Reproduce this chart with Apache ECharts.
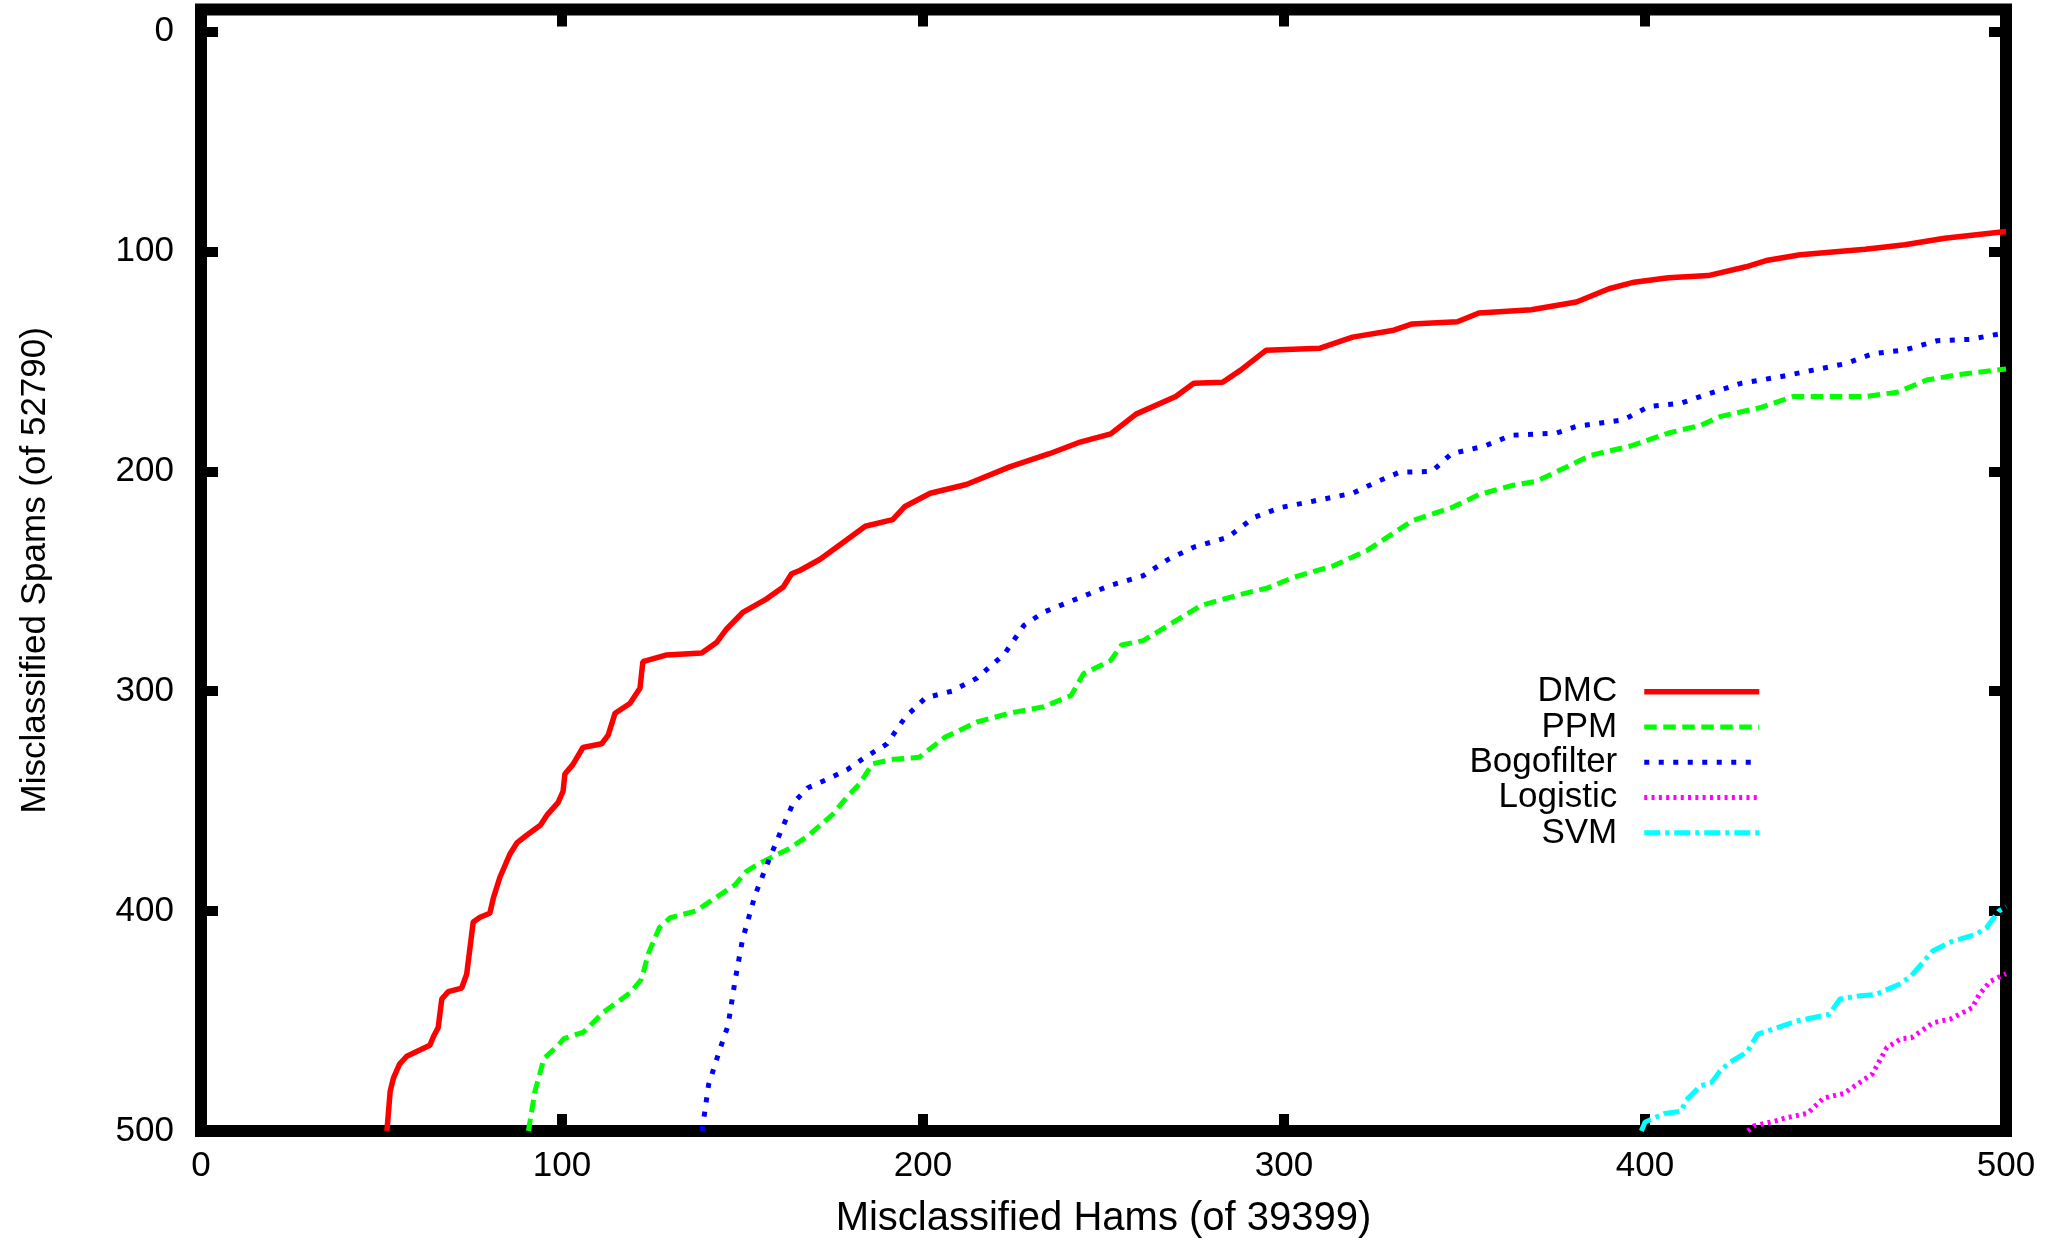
<!DOCTYPE html>
<html>
<head>
<meta charset="utf-8">
<script src="https://cdn.jsdelivr.net/npm/echarts@6/dist/echarts.min.js"></script>
<style>
html,body{margin:0;padding:0;background:#fff;}
#chart{width:2061px;height:1244px;}
</style>
</head>
<body>
<div id="chart"></div>
<script>
const seriesNames = ['DMC', 'PPM', 'Bogofilter', 'Logistic', 'SVM'];
const xTicks = [0, 100, 200, 300, 400, 500];
const yTicks = [0, 100, 200, 300, 400, 500];

const dmc = [[51.5,500],[52,490],[52.4,482],[53.3,476],[55,469.6],[57,466],[63.4,461],[64.4,457],[65.7,453],[66.7,440],[68.5,436.6],[72.2,435],[73.6,428.7],[75.4,405],[77.3,402.8],[80,401],[81,394],[82.8,384.6],[85.6,374],[87.5,369],[90.2,365.5],[94,361],[96,356],[98.9,350.7],[100.3,345.5],[100.8,337.7],[103,333.4],[105.8,325.6],[111,323.9],[112.8,320],[114.7,310],[118.8,305.6],[121.6,298.7],[122.4,286.6],[129,283.5],[138.7,282.6],[142.8,277.9],[145.6,271.7],[150.2,264],[156.7,258],[161.3,252.6],[163.6,246.6],[166,245],[171.5,240],[179,231],[184,225],[191.6,222],[195,216],[202,210],[212,206],[224,198],[235,192],[243,187],[252,183],[259,174],[270,166],[275,160],[283,159.5],[288,154],[295,145],[310,144],[319,139],[330,136],[335.5,133],[348,132],[354,128],[368.5,126.5],[381,123],[390,117],[397,114],[406.5,112],[417.5,111],[428,107],[434,104],[443,101.5],[461,99],[472,97],[483,94],[500,91]];

const ppm = [[90.7,500],[92.5,482],[95,467],[99,461],[100.5,458],[106,455],[111.5,446],[119,437],[122,431],[124,419],[127,407.5],[130,403],[137,400],[142.5,394],[148,388],[151,382],[155,378],[162.5,372],[168,366],[175,356],[179,348],[182.5,342],[186,333],[191.6,331],[199,330],[206,321],[215,314],[224,310],[233.5,307],[241,302],[244.5,292],[252,286],[255,279],[261,277],[268,270],[277,261],[288,256],[295.5,253],[303,248],[313.7,243],[323,236],[330,228.5],[335.5,222.5],[346.5,216.5],[354,210.6],[363,206.5],[370,204.5],[377.5,198.6],[385,192.7],[396,188.5],[406.5,182.6],[415.5,179],[421,175],[432,171],[441,166],[461,166],[470,164],[478,158.5],[487,156],[500,153.5]];

const bogofilter = [[138.8,500],[140.6,479],[143.5,464],[146,452],[148,431],[150,413],[153.5,392.6],[157,378],[160.8,363],[164,351],[168,344],[173.6,340],[179,335.7],[184,330],[190,324],[195,312],[200.7,303],[208,300],[215,294],[222.6,283],[228,270],[233.5,264],[242.6,258],[251.7,252],[261,247.5],[268,240],[275,234.5],[284.5,230],[291.6,221],[299,216.5],[308,213.6],[319,210],[326,204.6],[331.9,200.5],[341,200],[346.4,192],[355.6,188.5],[363,183.6],[375.5,182.6],[381,179.6],[394,176.6],[401,170.6],[410,169],[417.5,164.8],[426.6,160],[437.5,157],[446.6,154],[455.7,151],[463,146.6],[472,144.8],[481,140.6],[490,140],[500,137]];

const logistic = [[428.5,500],[430.2,497.7],[436,495.5],[439,494],[445,492],[449.5,485],[455,483],[463,474],[467,462],[471,458],[473.8,457.6],[479.8,450.8],[484.7,449],[490.6,444],[492.6,437.9],[495.6,432],[500,428.5]];

const svm = [[399,500],[400,496],[405.4,492],[410,491],[411.4,486],[415.3,479.5],[418.4,478],[420.8,472.7],[423.3,469],[428.3,464],[431.2,456],[435.2,453.8],[442,450],[451,447],[454,440],[459,438.6],[464,437.9],[470.8,433],[473.7,429.5],[479.8,418],[484.7,414],[491.6,410.6],[494.6,407.6],[498,400],[500,398]];

const colors = ['#ff0000', '#00ff00', '#0000ff', '#ff00ff', '#00ffff'];
const dashes = ['solid', [12.5, 6.5], [5, 9.5], [3, 4.3], [16, 5, 4, 5]];
const widths = [5.5, 5, 5, 5, 5];
const datasets = [dmc, ppm, bogofilter, logistic, svm];

const FONT = "'Liberation Sans', Arial, Helvetica, sans-serif";
const tickCommon = {
  show: true, inside: true, length: 17,
  lineStyle: { color: '#000', width: 10, cap: 'butt' }
};
const lineHidden = { show: false, onZero: false };

const chart = echarts.init(document.getElementById('chart'), null, { renderer: 'canvas' });
chart.setOption({
  animation: false,
  backgroundColor: '#fff',
  textStyle: { fontFamily: FONT },
  grid: {
    left: 201, right: 55, top: 9.5, bottom: 111,
    show: true, borderColor: '#000', borderWidth: 12, backgroundColor: 'transparent'
  },
  legend: {
    orient: 'vertical', align: 'right',
    right: 299, top: 674,
    itemWidth: 115, itemHeight: 14, itemGap: 0,
    padding: 0,
    itemStyle: { opacity: 0 },
    data: seriesNames.map((n, i) => ({
      name: n,
      itemStyle: { opacity: 0 },
      lineStyle: { color: colors[i], width: widths[i], type: dashes[i], cap: 'butt' }
    })),
    textStyle: { fontSize: 35, color: '#000', fontFamily: FONT, lineHeight: 35.3, padding: [0, 22, 0, 0] }
  },
  xAxis: [
    {
      type: 'value', position: 'bottom', min: 0, max: 500, interval: 100,
      axisLine: lineHidden,
      axisTick: Object.assign({ customValues: xTicks }, tickCommon),
      axisLabel: { customValues: xTicks, fontSize: 35, color: '#000', margin: 18, fontFamily: FONT },
      splitLine: { show: false },
      name: 'Misclassified Hams (of 39399)', nameLocation: 'middle', nameGap: 68,
      nameTextStyle: { fontSize: 40, color: '#000', fontFamily: FONT }
    },
    {
      type: 'value', position: 'top', min: 0, max: 500, interval: 100,
      axisLine: lineHidden,
      axisTick: Object.assign({ customValues: xTicks }, tickCommon),
      axisLabel: { show: false },
      splitLine: { show: false }
    }
  ],
  yAxis: [
    {
      type: 'value', position: 'left', inverse: true, min: -10, max: 500,
      axisLine: lineHidden,
      axisTick: Object.assign({ customValues: yTicks }, tickCommon),
      axisLabel: { customValues: yTicks, fontSize: 35, color: '#000', margin: 27, fontFamily: FONT },
      splitLine: { show: false },
      name: 'Misclassified Spams (of 52790)', nameLocation: 'middle', nameGap: 148,
      nameTextStyle: { fontSize: 35, color: '#000', fontFamily: FONT }
    },
    {
      type: 'value', position: 'right', inverse: true, min: -10, max: 500,
      axisLine: lineHidden,
      axisTick: Object.assign({ customValues: yTicks }, tickCommon),
      axisLabel: { show: false },
      splitLine: { show: false }
    }
  ],
  series: seriesNames.map((n, i) => ({
    name: n, type: 'line', data: datasets[i],
    xAxisIndex: 0, yAxisIndex: 0,
    symbol: 'none', smooth: false, clip: true,
    color: colors[i],
    lineStyle: { color: colors[i], width: widths[i], type: dashes[i], cap: 'butt' },
    z: 1
  }))
});
</script>
</body>
</html>
